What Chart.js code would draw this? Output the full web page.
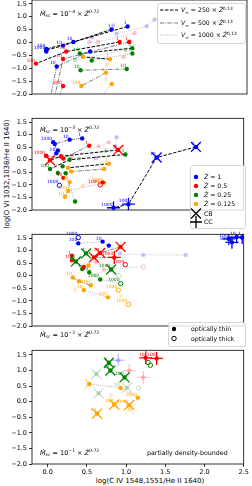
<!DOCTYPE html>
<html>
<head>
<meta charset="utf-8">
<script src="https://cdn.jsdelivr.net/npm/chart.js@4.4.0/dist/chart.umd.min.js"></script>
<style>
  body { margin: 0; background: #fff; width: 252px; height: 486px; position: relative; overflow: hidden; }
  canvas { position: absolute; left: 0; }
  .title { position: absolute; font: 7px "DejaVu Sans", sans-serif; color: #000; white-space: nowrap; transform: translate(-50%, -50%); }
</style>
</head>
<body>
<div class="title" style="left:7px; top:174px; transform: translate(-50%, -50%) rotate(-90deg);">log(O VI 1032,1038/He II 1640)</div>
<div class="title" style="left:150px; top:481px;">log(C IV 1548,1551/He II 1640)</div>
<script>
const zColors = ['#0000ff', '#ff0000', '#008000', '#ffa500'];
const zLabels = ['1', '0.5', '0.25', '0.125'];
const vLabels = ['250', '500', '1000'];
const mdotExp = ['−4', '−3', '−2', '−1'];
const xTicks = [0, 0.5, 1, 1.5, 2, 2.5];
const yTicks = [-2, -1.5, -1, -0.5, 0, 0.5, 1, 1.5];

// track = [Z index, V index (-1 = no line), faded, [[x, y, label, marker]]]
// marker: 'o' thin, 'c' thick, 'x' CB, '+' CC
const panel1 = [
  [0, 0, 0, [[1.00, 0.62, '1'], [0.32, 0.02, '10'], [-0.02, -0.25, '100'], [-0.02, -0.35, '1000']]],
  [0, 0, 0, [[0.80, 0.51, '1'], [0.19, -0.12, '10'], [-0.02, -0.30, '']]],
  [0, 1, 0, [[0.53, -0.35, ''], [0.11, -0.93, '10'], [0.02, -2.3, '']]],
  [1, 0, 0, [[0.90, 0.02, '1'], [0.23, -0.35, '10'], [-0.15, -0.82, '100']]],
  [1, 1, 0, [[1.02, 0.02, '1'], [0.19, -0.64, '10'], [0.07, -2.3, '']]],
  [1, 1, 0, [[0.19, -1.69, '100'], [0.11, -2.3, '']]],
  [2, 0, 0, [[1.06, -0.22, '1'], [0.40, -0.43, '10']]],
  [3, 0, 0, [[0.78, -0.65, '1'], [0.44, -0.56, '']]],
  [2, 1, 0, [[0.99, -1.03, '10'], [0.41, -1.08, '10']]],
  [2, 2, 0, [[1.06, -0.43, '1'], [0.55, -0.70, '']]],
  [3, 1, 0, [[0.73, -1.17, '1'], [0.42, -1.69, '100']]],
  [3, 2, 0, [[0.80, -1.61, ''], [0.62, -2.3, '']]],
  [0, 2, 1, [[1.34, 0.89, ''], [1.24, 0.63, ''], [0.86, 0.34, '']]],
  [0, 2, 1, [[0.82, 0.66, ''], [0.55, 0.20, '']]],
  [1, 2, 1, [[1.09, 0.36, ''], [0.63, 0.03, ''], [0.52, 0.01, '']]],
  [1, 2, 1, [[1.03, 0.05, ''], [0.95, -0.57, '']]],
  [2, 2, 1, [[0.97, -0.29, ''], [0.34, -0.68, '']]],
  [3, 2, 1, [[0.74, -0.84, ''], [0.73, -1.44, '']]]
];

const panel2 = [
  [0, 1, 0, [[0.44, 0.85, '1'], [0.28, 0.80, '10'], [0.09, 0.63, ''], [0.07, 0.70, '1000']]],
  [0, 0, 0, [[1.89, 0.51, '1', 'x'], [1.39, 0.09, '10', 'x'], [1.03, -1.77, '100', '+'], [0.84, -1.91, '1000', '+']]],
  [0, -1, 0, [[0.13, 0.37, '1'], [0.11, 0.26, '10']]],
  [0, -1, 0, [[0.15, -1.02, '1000', 'c']]],
  [1, 0, 0, [[0.90, 0.39, '1', 'x'], [0.17, 0.14, ''], [0.03, -0.02, '10', 'x']]],
  [1, 1, 0, [[0.53, 0.56, '1'], [0.20, 0.05, ''], [-0.02, 0.16, '1000']]],
  [1, 2, 0, [[0.70, -0.90, ''], [0.67, -1.00, '1000', 'c']]],
  [1, -1, 0, [[0.20, -0.72, '10']]],
  [2, 0, 0, [[0.99, 0.21, '1'], [0.28, 0.00, ''], [0.03, -0.37, '100']]],
  [2, -1, 0, [[0.13, -0.53, ''], [0.19, -0.26, '']]],
  [2, 2, 0, [[0.23, -0.54, ''], [0.35, -1.66, '']]],
  [3, 0, 0, [[0.78, -0.16, '1'], [0.26, -0.32, '']]],
  [3, 1, 0, [[0.72, -0.37, ''], [0.30, -0.47, '']]],
  [3, 1, 0, [[0.28, -0.89, '10'], [0.26, -1.24, '100'], [0.22, -1.47, '10']]],
  [3, 2, 0, [[0.72, -0.92, '1000'], [0.26, -1.24, '']]],
  [0, 2, 1, [[0.88, 0.90, ''], [0.86, 0.51, ''], [0.61, 0.06, '']]],
  [1, 2, 1, [[0.78, 0.69, ''], [0.65, 0.53, ''], [0.30, 0.10, '']]],
  [2, 2, 1, [[0.74, 0.37, '1'], [0.40, 0.05, '']]],
  [3, 2, 1, [[0.61, -0.84, '10'], [0.44, -1.05, ''], [0.70, -0.15, '']]]
];

const panel3 = [
  [0, 2, 0, [[0.78, 1.20, ''], [0.70, 1.36, '10'], [0.39, 1.29, '100']]],
  [0, -1, 0, [[0.39, 1.52, '1000', 'c']]],
  [0, 0, 0, [[2.48, 1.52, '1', '+'], [2.41, 1.54, '10', '+'], [2.31, 1.47, '100', '+'], [2.35, 1.33, '1000', '+']]],
  [0, 2, 1, [[1.76, 0.83, ''], [1.22, 0.83, ''], [0.92, 0.88, '']]],
  [1, 1, 0, [[0.93, 1.15, '', 'x'], [0.67, 0.91, '10', 'x'], [0.59, 0.73, '', 'x'], [0.85, 0.73, '1000', '+']]],
  [1, 1, 0, [[0.31, 0.80, '1'], [0.31, 0.62, '10'], [0.46, 0.35, '']]],
  [1, -1, 0, [[0.99, 0.44, '1000', 'c']]],
  [1, 2, 1, [[1.22, 0.36, '', 'c'], [0.72, 0.24, ''], [0.61, 0.56, '']]],
  [2, 1, 0, [[0.49, 0.89, '1', 'x'], [0.36, 0.57, '10', 'x']]],
  [2, 2, 0, [[0.44, 0.27, '1'], [0.53, 0.14, '10'], [0.67, -0.15, '1000'], [0.93, -0.31, '1000', 'c']]],
  [2, -1, 0, [[0.81, 0.25, '1000', 'x']]],
  [2, -1, 1, [[0.91, 0.00, '', 'c']]],
  [3, 1, 0, [[0.32, -0.07, '10'], [0.40, -0.22, ''], [0.55, -0.38, '100']]],
  [3, 2, 0, [[0.46, -0.57, '10'], [0.77, -0.86, '100']]],
  [3, -1, 0, [[0.90, -0.57, '1000', 'c'], [1.03, -1.14, '1000', 'c'], [0.52, 0.41, '']]],
  [3, -1, 1, [[0.93, -0.80, ''], [0.35, -0.55, '']]]
];

const panel4 = [
  [1, -1, 0, [[1.39, 1.39, '100', '+'], [1.25, 1.41, '10', '+']]],
  [1, -1, 1, [[1.04, 1.00, '', '+'], [1.22, 0.78, '', '+']]],
  [2, -1, 0, [[0.78, 1.25, '1', 'x'], [0.80, 1.00, '10', 'x'], [0.98, 0.78, '100', 'x'], [1.31, 1.17, '', 'c'], [1.28, 1.26, '', 'c']]],
  [2, -1, 1, [[0.62, 0.89, '', 'x'], [0.65, 0.27, '', 'x'], [1.01, 0.45, '', 'x'], [1.16, 0.44, '', 'c']]],
  [0, -1, 1, [[0.90, 1.33, '', '+']]],
  [3, 2, 0, [[0.53, 0.57, '1'], [0.93, 0.44, '10'], [1.15, 0.13, '1000']]],
  [3, -1, 0, [[0.85, -0.09, '100', 'x'], [1.04, -0.11, '1000', 'x'], [0.63, -0.38, '10', 'x']]],
  [3, -1, 1, [[0.81, 0.20, ''], [0.50, 0.48, ''], [1.05, -0.25, '', 'x']]]
];

const panels = [panel1, panel2, panel3, panel4];

const lineColors = ['#000000', '#7a7a7a', '#b0b0b0'];
const lineDash = [[3.5, 1.5], [4, 1.2, 1, 1.2], [1, 1.2]];
const FONT = '"DejaVu Sans", sans-serif';

function fade(hex, a) {
  const n = parseInt(hex.slice(1), 16);
  return `rgba(${n >> 16},${(n >> 8) & 255},${n & 255},${a})`;
}
function colorOf(z, faded) { return faded ? fade(zColors[z], 0.22) : zColors[z]; }
function fmt(v) { return (v < 0 ? '−' : '') + Math.abs(v).toFixed(1); }

function buildDatasets(tracks) {
  const sets = [];
  tracks.forEach(([z, v, faded, pts]) => {
    const col = colorOf(z, faded);
    const xy = pts.map(p => ({ x: p[0], y: p[1] }));
    if (v >= 0) {
      sets.push({ data: xy, showLine: true, pointRadius: 0, borderColor: faded ? fade('#999999', 0.5) : lineColors[v],
        borderDash: lineDash[v], borderWidth: 1, order: 3 });
    }
    sets.push({
      data: xy, showLine: false, order: 2, pointStyle: 'circle',
      pointRadius: pts.map(p => p[1] < -2 ? 0 : 2.2),
      backgroundColor: pts.map(p => p[3] === 'c' ? 'rgba(0,0,0,0)' : col),
      borderColor: col,
      borderWidth: pts.map(p => p[3] === 'c' ? 1 : 0)
    });
    const big = pts.filter(p => p[3] === 'x' || p[3] === '+');
    if (big.length) {
      sets.push({
        data: big.map(p => ({ x: p[0], y: p[1] })), showLine: false, order: 1,
        pointStyle: big.map(p => p[3] === 'x' ? 'crossRot' : 'cross'),
        pointRadius: big.map(p => p[3] === 'x' ? 7 : 6.5),
        borderColor: col, borderWidth: 1.3
      });
    }
  });
  return sets;
}

function rich(ctx, x, y, parts, size) {
  parts.forEach(([t, k]) => {
    const small = k === 'sub' || k === 'sup';
    ctx.font = (k === 'i' ? 'italic ' : '') + (small ? size * 0.7 : size) + 'px ' + FONT;
    const dy = k === 'sub' ? size * 0.25 : k === 'sup' ? -size * 0.42 : 0;
    ctx.fillText(t, x, y + dy);
    x += ctx.measureText(t).width;
  });
  return x;
}
const mdotParts = e => [['Ṁ', 'i'], ['sc', 'sub'], [' = 10', 'n'], [e, 'sup'], [' × ', 'n'], ['Ż', 'i'], ['0.72', 'sup']];
const vParts = v => [['V', 'i'], ['∞', 'sub'], [' = ' + v + ' × ', 'n'], ['Ż', 'i'], ['0.13', 'sup']];

function legendBox(ctx, x0, y0, x1, y1) {
  ctx.save();
  ctx.fillStyle = 'rgba(255,255,255,0.8)';
  ctx.strokeStyle = '#cccccc';
  ctx.lineWidth = 0.8;
  ctx.beginPath();
  ctx.roundRect(x0 + 0.5, y0 + 0.5, x1 - x0, y1 - y0, 2);
  ctx.fill();
  ctx.stroke();
  ctx.restore();
}

function marker(ctx, kind, x, y, color) {
  ctx.save();
  ctx.strokeStyle = color;
  ctx.fillStyle = color;
  ctx.lineWidth = kind === 'c' ? 1 : 1.3;
  ctx.beginPath();
  if (kind === 'o' || kind === 'c') {
    ctx.arc(x, y, 2.2, 0, Math.PI * 2);
    kind === 'o' ? ctx.fill() : ctx.stroke();
  } else if (kind === 'x') {
    ctx.moveTo(x - 5, y - 5); ctx.lineTo(x + 5, y + 5);
    ctx.moveTo(x - 5, y + 5); ctx.lineTo(x + 5, y - 5);
    ctx.stroke();
  } else {
    ctx.moveTo(x - 6, y); ctx.lineTo(x + 6, y);
    ctx.moveTo(x, y - 6); ctx.lineTo(x, y + 6);
    ctx.stroke();
  }
  ctx.restore();
}

function panelPlugin(k, tracks, top) {
  return {
    id: 'panel' + k,
    afterDatasetsDraw(chart) {
      const { ctx, scales: { x, y } } = chart;
      ctx.save();
      ctx.font = '4.5px ' + FONT;
      ctx.textAlign = 'right';
      ctx.textBaseline = 'bottom';
      tracks.forEach(([z, v, faded, pts]) => {
        ctx.fillStyle = colorOf(z, faded);
        pts.forEach(p => {
          if (p[2]) ctx.fillText(p[2], x.getPixelForValue(p[0]) - 1, y.getPixelForValue(p[1]) - 1);
        });
      });
      ctx.restore();
    },
    afterDraw(chart) {
      const { ctx, chartArea: a } = chart;
      const Y = v => v - top;
      ctx.save();
      ctx.strokeStyle = '#000';
      ctx.lineWidth = 0.8;
      ctx.strokeRect(a.left, a.top, a.right - a.left, a.bottom - a.top);
      ctx.fillStyle = '#000';
      ctx.textAlign = 'left';
      ctx.textBaseline = 'alphabetic';
      const textY = [15.5, 131.5, 336.5, 454.5][k];
      rich(ctx, 40, Y(textY), mdotParts(mdotExp[k]), 6.5);

      if (k === 0) {
        legendBox(ctx, 157, Y(3), 245, Y(43));
        [10, 23, 35].forEach((ry, i) => {
          ctx.save();
          ctx.strokeStyle = lineColors[i];
          ctx.lineWidth = 1;
          ctx.setLineDash(lineDash[i]);
          ctx.beginPath();
          ctx.moveTo(160, Y(ry)); ctx.lineTo(178, Y(ry));
          ctx.stroke();
          ctx.restore();
          ctx.fillStyle = '#000';
          rich(ctx, 181, Y(ry + 2.3), vParts(vLabels[i]), 6.2);
        });
      }
      if (k === 1) {
        legendBox(ctx, 190, Y(165), 245, Y(228));
        const rows = [177, 186, 195, 204, 213.5, 222];
        zLabels.forEach((lab, i) => {
          marker(ctx, 'o', 196, Y(rows[i]), zColors[i]);
          ctx.fillStyle = '#000';
          rich(ctx, 204, Y(rows[i] + 2.3), [['Ż', 'i'], [' = ' + lab, 'n']], 6.2);
        });
        marker(ctx, 'x', 196, Y(rows[4]), '#000');
        marker(ctx, '+', 196, Y(rows[5]), '#000');
        ctx.fillStyle = '#000';
        rich(ctx, 204, Y(rows[4] + 2.3), [['CB', 'n']], 6.2);
        rich(ctx, 204, Y(rows[5] + 2.3), [['CC', 'n']], 6.2);
      }
      if (k === 2) {
        legendBox(ctx, 168, Y(322), 245, Y(346));
        marker(ctx, 'o', 174, Y(329), '#000');
        marker(ctx, 'c', 174, Y(338.5), '#000');
        ctx.fillStyle = '#000';
        rich(ctx, 191, Y(331.3), [['optically thin', 'n']], 6.2);
        rich(ctx, 191, Y(340.8), [['optically thick', 'n']], 6.2);
      }
      if (k === 3) {
        rich(ctx, 147, Y(textY), [['partially density-bounded', 'n']], 6.3);
      }
      ctx.restore();
    }
  };
}

panels.forEach((tracks, k) => {
  const last = k === 3;
  const top = 116 * k - 6;
  const cv = document.createElement('canvas');
  cv.width = 252;
  cv.height = last ? 144 : 128;
  cv.style.top = top + 'px';
  document.body.appendChild(cv);

  new Chart(cv, {
    type: 'scatter',
    data: { datasets: buildDatasets(tracks) },
    options: {
      responsive: false,
      animation: false,
      devicePixelRatio: 1,
      events: [],
      layout: { padding: { top: 6, bottom: last ? 0 : 6, left: 0, right: 5 } },
      plugins: { legend: { display: false }, tooltip: { enabled: false } },
      scales: {
        x: {
          type: 'linear', min: -0.2, max: 2.5, display: last,
          afterBuildTicks: s => { s.ticks = xTicks.map(v => ({ value: v })); },
          afterFit: s => { s.height = 22; s.paddingLeft = 0; s.paddingRight = 0; },
          ticks: { font: { family: 'DejaVu Sans', size: 6.5 }, color: '#000', padding: 1, maxRotation: 0,
            callback: v => fmt(v) },
          grid: { display: true, drawOnChartArea: false, tickLength: 3, color: '#000', tickWidth: 0.8 },
          border: { display: false }
        },
        y: {
          type: 'linear', min: -2, max: 1.65,
          afterBuildTicks: s => { s.ticks = yTicks.map(v => ({ value: v })); },
          afterFit: s => { s.width = 32; s.paddingTop = 0; s.paddingBottom = 0; },
          ticks: { font: { family: 'DejaVu Sans', size: 6.5 }, color: '#000', padding: 2,
            callback: v => fmt(v) },
          grid: { display: true, drawOnChartArea: false, tickLength: 3, color: '#000', tickWidth: 0.8 },
          border: { display: false }
        }
      }
    },
    plugins: [panelPlugin(k, tracks, top)]
  });
});
</script>
</body>
</html>
